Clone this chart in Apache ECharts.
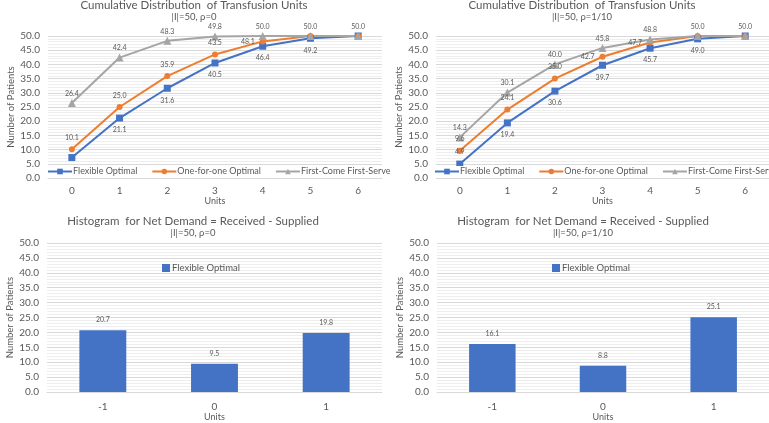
<!DOCTYPE html>
<html><head><meta charset="utf-8">
<script src="https://cdn.jsdelivr.net/npm/echarts@6/dist/echarts.min.js"></script>
<style>html,body{margin:0;padding:0;background:#fff}#c{width:769px;height:423px}</style>
</head><body><div id="c"></div>
<script>
const unitCats = ['0','1','2','3','4','5','6'];
const flexRho0 = [7.2, 21.1, 31.6, 40.5, 46.4, 49.2, 50.0];
const oneRho0  = [10.1, 25.0, 35.9, 43.5, 48.1, 50.0, 50.0];
const fcfsRho0 = [26.4, 42.4, 48.3, 49.8, 50.0, 50.0, 50.0];
const flexRho10 = [4.9, 19.4, 30.6, 39.7, 45.7, 49.0, 50.0];
const oneRho10  = [9.6, 24.1, 35.0, 42.7, 47.7, 50.0, 50.0];
const fcfsRho10 = [14.3, 30.1, 40.0, 45.8, 48.8, 50.0, 50.0];
const netCats = ['-1','0','1'];
const netRho0  = [20.7, 9.5, 19.8];
const netRho10 = [16.1, 8.8, 25.1];
const seriesNames = ['Flexible Optimal', 'One-for-one Optimal', 'First-Come First-Serve'];

const FONT = 'Lato';
const TXT = '#595959';
const C_BLUE = '#4472C4', C_ORANGE = '#ED7D31', C_GRAY = '#A5A5A5';

function items(vals, defPos, overrides) {
  return vals.map((v, i) => {
    const o = overrides && overrides[i];
    if (o === 'hide') return { value: v, label: { show: false } };
    return { value: v, label: { position: o || defPos } };
  });
}

function lineSeries(name, vals, idx, color, symbol, size, pos, ov, dist) {
  return {
    type: 'line', name: name, xAxisIndex: idx, yAxisIndex: idx,
    data: items(vals, pos, ov),
    symbol: symbol, symbolSize: size,
    lineStyle: { color: color, width: 2 },
    itemStyle: { color: color },
    label: { show: true, fontFamily: FONT, fontSize: 7, color: TXT, formatter: p => p.value.toFixed(1), distance: dist },
    z: 3, animation: false
  };
}

function xAx(idx, cats, gap, nameGap) {
  return {
    type: 'category', gridIndex: idx, data: cats,
    name: 'Units', nameLocation: 'middle', nameGap: nameGap,
    nameTextStyle: { fontFamily: FONT, fontSize: 9, color: TXT },
    axisLine: { lineStyle: { color: '#d9d9d9' } },
    axisTick: { show: false },
    axisLabel: { fontFamily: FONT, fontSize: 10, color: TXT, margin: gap }
  };
}
function yAx(idx, nameGap) {
  return {
    type: 'value', gridIndex: idx, min: 0, max: 50, interval: 5,
    name: 'Number of Patients', nameLocation: 'middle', nameGap: nameGap,
    nameTextStyle: { fontFamily: FONT, fontSize: 9.5, color: TXT },
    axisLine: { show: false }, axisTick: { show: false },
    axisLabel: { fontFamily: FONT, fontSize: 10, color: TXT, margin: 8, formatter: v => v.toFixed(1) },
    splitLine: { lineStyle: { color: '#d9d9d9', width: 1 } },
    minorTick: { show: false, splitNumber: 5 },
    minorSplitLine: { show: true, lineStyle: { color: '#eeeeee', width: 1 } }
  };
}
function titles(cx, y1, y2, t, sub) {
  return [
    { text: t, left: cx, top: y1, textAlign: 'center', padding: 0,
      textStyle: { fontFamily: FONT, fontSize: 11.5, fontWeight: 'normal', color: TXT } },
    { text: sub, left: cx, top: y2, textAlign: 'center', padding: 0,
      textStyle: { fontFamily: FONT, fontSize: 9.5, fontWeight: 'normal', color: TXT } }
  ];
}
function lineLegend(left) {
  return {
    left: left, top: 166, width: 420, orient: 'horizontal', itemGap: 14, itemWidth: 24, itemHeight: 7,
    backgroundColor: '#fff', padding: [1, 2],
    textStyle: { fontFamily: FONT, fontSize: 9, color: TXT, padding: [0, 0, 0, -4] },
    data: seriesNames.slice()
  };
}
function barLegend(left) {
  return {
    left: left, top: 263, itemWidth: 8, itemHeight: 8, itemGap: 2, padding: 0,
    textStyle: { fontFamily: FONT, fontSize: 9.5, color: TXT, padding: [0, 0, 0, -3] },
    data: [{ name: 'Flexible Optimal', icon: 'rect' }]
  };
}
function barSeries(vals, idx) {
  return {
    type: 'bar', name: 'Flexible Optimal', xAxisIndex: idx, yAxisIndex: idx,
    data: vals, barWidth: '42%',
    itemStyle: { color: C_BLUE },
    label: { show: true, position: 'top', distance: 7, fontFamily: FONT, fontSize: 7, color: TXT, formatter: p => p.value.toFixed(1) },
    animation: false
  };
}

const option = {
  backgroundColor: '#fff',
  animation: false,
  title: [].concat(
    titles(194, -1, 12, 'Cumulative Distribution  of Transfusion Units', '|I|=50, \u03c1=0'),
    titles(582, -1, 12, 'Cumulative Distribution  of Transfusion Units', '|I|=50, \u03c1=1/10'),
    titles(193, 215, 228, 'Histogram  for Net Demand = Received - Supplied', '|I|=50, \u03c1=0'),
    titles(583, 215, 228, 'Histogram  for Net Demand = Received - Supplied', '|I|=50, \u03c1=1/10')
  ),
  legend: [lineLegend(45), lineLegend(432), barLegend(162), barLegend(552)],
  grid: [
    { left: 48, top: 36, width: 334, height: 142 },
    { left: 436, top: 36, width: 334, height: 142 },
    { left: 47, top: 243, width: 335, height: 150 },
    { left: 437, top: 243, width: 333, height: 150 }
  ],
  xAxis: [xAx(0, unitCats, 8, 17), xAx(1, unitCats, 8, 17), xAx(2, netCats, 10, 17), xAx(3, netCats, 10, 17)],
  yAxis: [yAx(0, 31), yAx(1, 31), yAx(2, 31), yAx(3, 31)],
  series: [
    lineSeries(seriesNames[0], flexRho0, 0, C_BLUE, 'rect', 7, 'bottom', { 6: 'hide' }, 5),
    lineSeries(seriesNames[1], oneRho0, 0, C_ORANGE, 'circle', 6, 'top', { 4: 'left', 5: 'hide', 6: 'hide' }, 5),
    lineSeries(seriesNames[2], fcfsRho0, 0, C_GRAY, 'triangle', 8, 'top', {}, 2),
    lineSeries(seriesNames[0], flexRho10, 1, C_BLUE, 'rect', 7, 'bottom', { 0: 'top', 6: 'hide' }, 5),
    lineSeries(seriesNames[1], oneRho10, 1, C_ORANGE, 'circle', 6, 'top', { 3: 'left', 4: 'left', 5: 'hide', 6: 'hide' }, 5),
    lineSeries(seriesNames[2], fcfsRho10, 1, C_GRAY, 'triangle', 8, 'top', {}, 2),
    barSeries(netRho0, 2),
    barSeries(netRho10, 3)
  ]
};
const chart = echarts.init(document.getElementById('c'), null, { renderer: 'canvas' });
chart.setOption(option);
</script></body></html>
